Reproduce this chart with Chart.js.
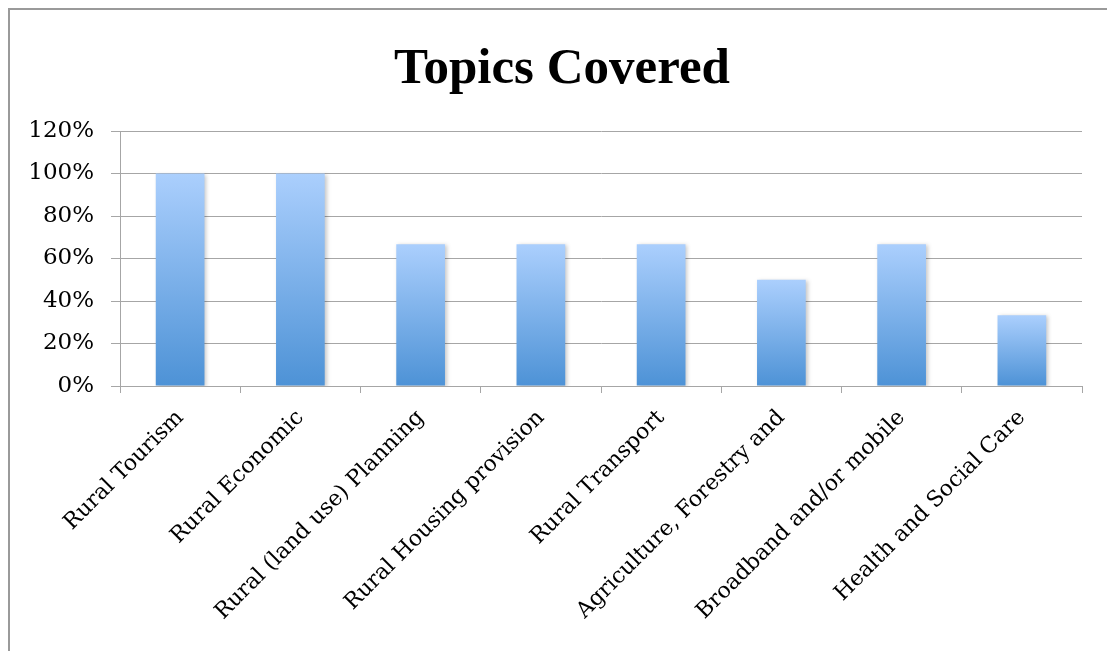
<!DOCTYPE html>
<html>
<head>
<meta charset="utf-8">
<script src="https://cdn.jsdelivr.net/npm/chart.js@4"></script>
<style>
  html, body { margin: 0; padding: 0; background: #fff; overflow: hidden; }
  #wrap { position: relative; width: 1107px; height: 651px; }
  #frame { position: absolute; left: 8px; top: 8px; width: 1200px; height: 700px;
           border-top: 2px solid #9a9a9a; border-left: 2px solid #9a9a9a; box-sizing: border-box; }
  canvas { position: absolute; left: 0; top: 0; }
</style>
</head>
<body>
<div id="wrap">
  <div id="frame"></div>
  <canvas id="c" width="1107" height="651"></canvas>
</div>
<script>
const titleText = "Topics Covered";
const categories = [
  "Rural Tourism",
  "Rural Economic",
  "Rural (land use) Planning",
  "Rural Housing provision",
  "Rural Transport",
  "Agriculture, Forestry and",
  "Broadband and/or mobile",
  "Health and Social Care"
];
const coverage = [1.00, 1.00, 0.667, 0.667, 0.667, 0.50, 0.667, 0.333];
const yTickValues = [0, 0.2, 0.4, 0.6, 0.8, 1.0, 1.2];
const yTickLabels = ["0%", "20%", "40%", "60%", "80%", "100%", "120%"];

const shadowPlugin = {
  id: 'barShadow',
  beforeDatasetsDraw(chart) {
    const ctx = chart.ctx;
    ctx.save();
    ctx.shadowColor = 'rgba(0,0,0,0.22)';
    ctx.shadowBlur = 4;
    ctx.shadowOffsetX = 2;
    ctx.shadowOffsetY = 1;
  },
  afterDatasetsDraw(chart) {
    chart.ctx.restore();
  }
};

const titlePlugin = {
  id: 'customTitle',
  afterDraw(chart) {
    const ctx = chart.ctx;
    ctx.save();
    ctx.fillStyle = '#000';
    ctx.font = "bold 51px 'Liberation Serif', serif";
    ctx.textAlign = 'center';
    ctx.textBaseline = 'alphabetic';
    ctx.fillText(titleText, 562, 83);
    ctx.restore();
  }
};

function barGradient(context) {
  const chart = context.chart;
  const y = chart.scales.y;
  if (!y || context.parsed === undefined) return '#6fa8e6';
  const top = y.getPixelForValue(context.parsed.y);
  const bottom = y.getPixelForValue(0);
  if (!isFinite(top) || !isFinite(bottom) || top === bottom) return '#6fa8e6';
  const g = chart.ctx.createLinearGradient(0, top, 0, bottom);
  g.addColorStop(0, '#abcffd');
  g.addColorStop(1, '#4d92d6');
  return g;
}

new Chart(document.getElementById('c'), {
  type: 'bar',
  data: {
    labels: categories,
    datasets: [{
      data: coverage,
      backgroundColor: barGradient,
      borderWidth: 0,
      barPercentage: 0.405,
      categoryPercentage: 1.0
    }]
  },
  plugins: [shadowPlugin, titlePlugin],
  options: {
    responsive: false,
    animation: false,
    devicePixelRatio: 1,
    layout: { padding: { left: 0, right: 25, top: 131, bottom: 0 } },
    plugins: {
      legend: { display: false },
      tooltip: { enabled: false },
      title: { display: false }
    },
    scales: {
      x: {
        grid: {
          display: true,
          drawOnChartArea: false,
          drawTicks: true,
          tickLength: 7,
          color: '#a6a6a6',
          offset: true
        },
        border: { display: true, color: '#a6a6a6', width: 1 },
        ticks: {
          color: '#000',
          font: { family: "'DejaVu Serif', serif", size: 22 },
          minRotation: 45,
          maxRotation: 45,
          autoSkip: false,
          padding: 12
        },
        afterFit(scale) { scale.height = 265; }
      },
      y: {
        min: 0,
        max: 1.2,
        afterBuildTicks(scale) { scale.ticks = yTickValues.map(v => ({ value: v })); },
        grid: {
          color: '#a6a6a6',
          drawTicks: true,
          tickLength: 9,
          lineWidth: 1
        },
        border: { display: true, color: '#a6a6a6', width: 1 },
        ticks: {
          color: '#000',
          font: { family: "'DejaVu Serif', serif", size: 23 },
          padding: 17,
          callback: (v) => {
            const i = yTickValues.findIndex(t => Math.abs(t - v) < 1e-9);
            return i >= 0 ? yTickLabels[i] : '';
          }
        },
        afterFit(scale) { scale.width = 120; }
      }
    }
  }
});
</script>
</body>
</html>
